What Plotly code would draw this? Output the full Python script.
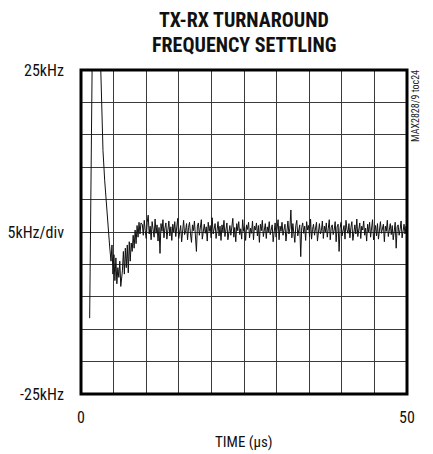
import numpy as np
import plotly.graph_objects as go

# ---- data (kHz vs microseconds) ----
early_t = [1.33, 1.75, 2.9, 3.1, 3.37, 3.63, 3.9, 4.14, 4.4, 4.6, 4.75, 4.9, 5.05, 5.2,
           5.35, 5.5, 5.65, 5.8, 5.95, 6.1, 6.2, 6.35, 6.5, 6.65, 6.8, 6.95, 7.1, 7.25,
           7.4, 7.55, 7.7, 7.85, 8.0, 8.15, 8.3, 8.45, 8.6, 8.75, 8.9, 9.05, 9.2]
early_v = [-13.3, 30, 30, 22, 12.6, 8.0, 4.0, 0.8, -2.3, -4.5, -2.0, -6.5, -3.5, -7.5,
           -4.0, -8.0, -5.5, -7.0, -4.5, -8.4, -7.5, -6.0, -3.0, -6.5, -2.5, -5.5, -2.0,
           -6.3, -1.5, -4.5, -1.7, -3.0, -0.5, -2.5, 0.3, -1.8, 1.0, -0.8, 1.5, -0.3, 1.4]

settled_start = 9.4
settled_end = 50.0
settled_v = [
    1.2, -0.5, 1.8, 0.2, -1.0, 1.5, 2.6, -0.3, 0.9, -1.2, 1.6, 0.4, -0.8, 2.0, -0.2,
    1.1, -1.4, 0.7, -3.3, 1.3, 0.1, 1.9, -0.9, 0.6, 1.4, -1.1, 0.3, 1.7, -0.6, 0.8,
    -1.3, 1.2, 0.0, 1.6, -0.7, 0.5, 2.1, -1.0, 0.4, 1.0, -1.5, 0.9, 1.8, -0.4, 0.2,
    1.3, -1.2, 0.7, 1.5, -0.3, -1.6, 1.1, 0.2, 1.7, -0.8, -3.0, 0.9, 1.4, -0.5, 0.6,
    1.9, -1.1, 0.3, 1.2, -0.2, 0.8, -1.4, 1.5, 0.1, 1.0, -0.9, 2.2, -0.3, 0.5, 1.3,
    -1.0, 0.4, 1.6, -0.6, 0.9, -1.3, 1.1, 0.0, 1.8, -0.7, 0.6, 1.4, -1.2, 0.3, 1.0,
    -0.5, 1.2, 2.1, -0.8, 0.7, -1.5, 1.3, 0.2, 1.6, -0.4, 0.5, -1.1, 1.9, 0.1, 0.8,
    -1.3, 1.1, 0.4, 1.5, -0.9, 0.6, -0.2, 1.7, -1.2, 0.9, 0.3, 1.4, -0.6, 1.0, -1.6,
    1.2, 0.2, 1.8, -0.7, 0.5, 1.3, -1.0, 0.8, 0.0, 1.6, -0.4, 0.7, 1.1, -1.5, 0.6,
    1.4, -0.8, 0.3, 1.9, -1.2, 0.9, 0.1, 1.5, -0.5, 0.4, 1.2, -1.4, 0.8, 1.7, -0.3,
    0.6, 3.4, -0.9, 1.3, 0.2, -1.6, 1.0, 1.8, -0.6, 0.5, 1.1, -3.8, 0.7, 1.4, -0.2,
    0.9, -1.3, 1.6, 0.3, 1.0, -0.7, 2.0, -1.1, 0.4, 1.2, -0.5, 0.8, 1.5, -1.4, 0.6,
    1.3, -0.3, 0.2, 1.7, -1.0, 0.9, 0.0, 1.4, -0.8, 0.5, 1.9, -1.2, 0.7, 1.1, -0.4,
    0.3, 1.6, -1.5, 0.8, 1.2, -3.0, 0.6, 1.5, -0.6, 0.1, 1.0, -1.1, 1.8, 0.4, -0.2,
    1.3, -0.9, 0.7, 1.6, -1.3, 0.5, 1.1, -0.3, 2.0, -0.7, 0.2, 1.4, -1.0, 0.9, 0.3,
    1.7, -0.5, 0.6, -1.4, 1.2, 0.0, 1.5, -0.8, 0.8, 1.9, -1.2, 0.4, 1.0, -0.6, 1.3,
    -1.1, 0.7, 1.6, -0.2, 0.5, 1.2, -1.5, 0.9, 0.1, 1.8, -0.7, 0.6, 1.3, -0.4, 1.0,
    -1.2, 0.3, 1.5, -2.5, 0.8, 1.1, -0.5, 0.4, 1.7, -0.9, 0.6, 1.2, -0.3, 0.9, 0.5,
]

y_tickvals = [-25, -20, -15, -10, -5, 0, 5, 10, 15, 20, 25]
y_ticktext = ["-25kHz", "", "", "", "", "5kHz/div", "", "", "", "", "25kHz"]
x_tickvals = [0, 5, 10, 15, 20, 25, 30, 35, 40, 45, 50]
x_ticktext = ["0", "", "", "", "", "", "", "", "", "", "50"]

title_lines = ["TX-RX TURNAROUND", "FREQUENCY SETTLING"]
x_title = "TIME (\u00b5s)"
side_note = "MAX2828/9 toc24"

settled_t = np.linspace(settled_start, settled_end, len(settled_v))
t_all = list(early_t) + list(settled_t)
v_all = list(early_v) + list(settled_v)

FONT = "Liberation Sans Narrow, Roboto Condensed, Arial Narrow, Roboto, sans-serif"

fig = go.Figure()
fig.add_trace(go.Scatter(x=t_all, y=v_all, mode="lines",
                         line=dict(color="#111111", width=1), hoverinfo="skip",
                         showlegend=False))

grid = "#3a3a3a"
fig.update_xaxes(range=[0, 50], tickmode="array", tickvals=x_tickvals, ticktext=x_ticktext,
                 showgrid=True, gridcolor=grid, gridwidth=1.2, zeroline=False,
                 showline=False, ticks="", ticklabelstandoff=12, automargin=False,
                 tickfont=dict(family=FONT, size=16, color="#111"))
fig.update_yaxes(range=[-25, 25], tickmode="array", tickvals=y_tickvals, ticktext=y_ticktext,
                 showgrid=True, gridcolor=grid, gridwidth=1.2, zeroline=False,
                 showline=False, ticks="", ticklabelstandoff=16, automargin=False,
                 tickfont=dict(family=FONT, size=16, color="#111"))

fig.add_shape(type="rect", xref="paper", yref="paper", x0=0, x1=1, y0=0, y1=1,
              line=dict(color="black", width=3), fillcolor="rgba(0,0,0,0)", layer="above")

# title lines (pixel offsets relative to top of plot area)
fig.add_annotation(text="<b>" + title_lines[0] + "</b>", xref="paper", yref="paper",
                   x=0.5, y=1, yshift=50, showarrow=False, xanchor="center", yanchor="middle",
                   font=dict(family=FONT, size=20, color="#111"))
fig.add_annotation(text="<b>" + title_lines[1] + "</b>", xref="paper", yref="paper",
                   x=0.5, y=1, yshift=25, showarrow=False, xanchor="center", yanchor="middle",
                   font=dict(family=FONT, size=20, color="#111"))

fig.add_annotation(text=x_title, xref="paper", yref="paper", x=0.5, y=0, yshift=-48,
                   showarrow=False, xanchor="center", yanchor="middle",
                   font=dict(family=FONT, size=15, color="#111"))

fig.add_annotation(text=side_note, xref="paper", yref="paper", x=1.0, y=0.889,
                   xanchor="center", yanchor="middle", xshift=9, textangle=-90,
                   showarrow=False, font=dict(family=FONT, size=10, color="#222"))

# page body adds an 8px offset; size the figure to fit inside the window
fig.update_layout(
    width=425, height=446,
    margin=dict(l=73, r=26, t=62, b=60, autoexpand=False),
    paper_bgcolor="white", plot_bgcolor="white",
)

fig.write_html("out.html")
